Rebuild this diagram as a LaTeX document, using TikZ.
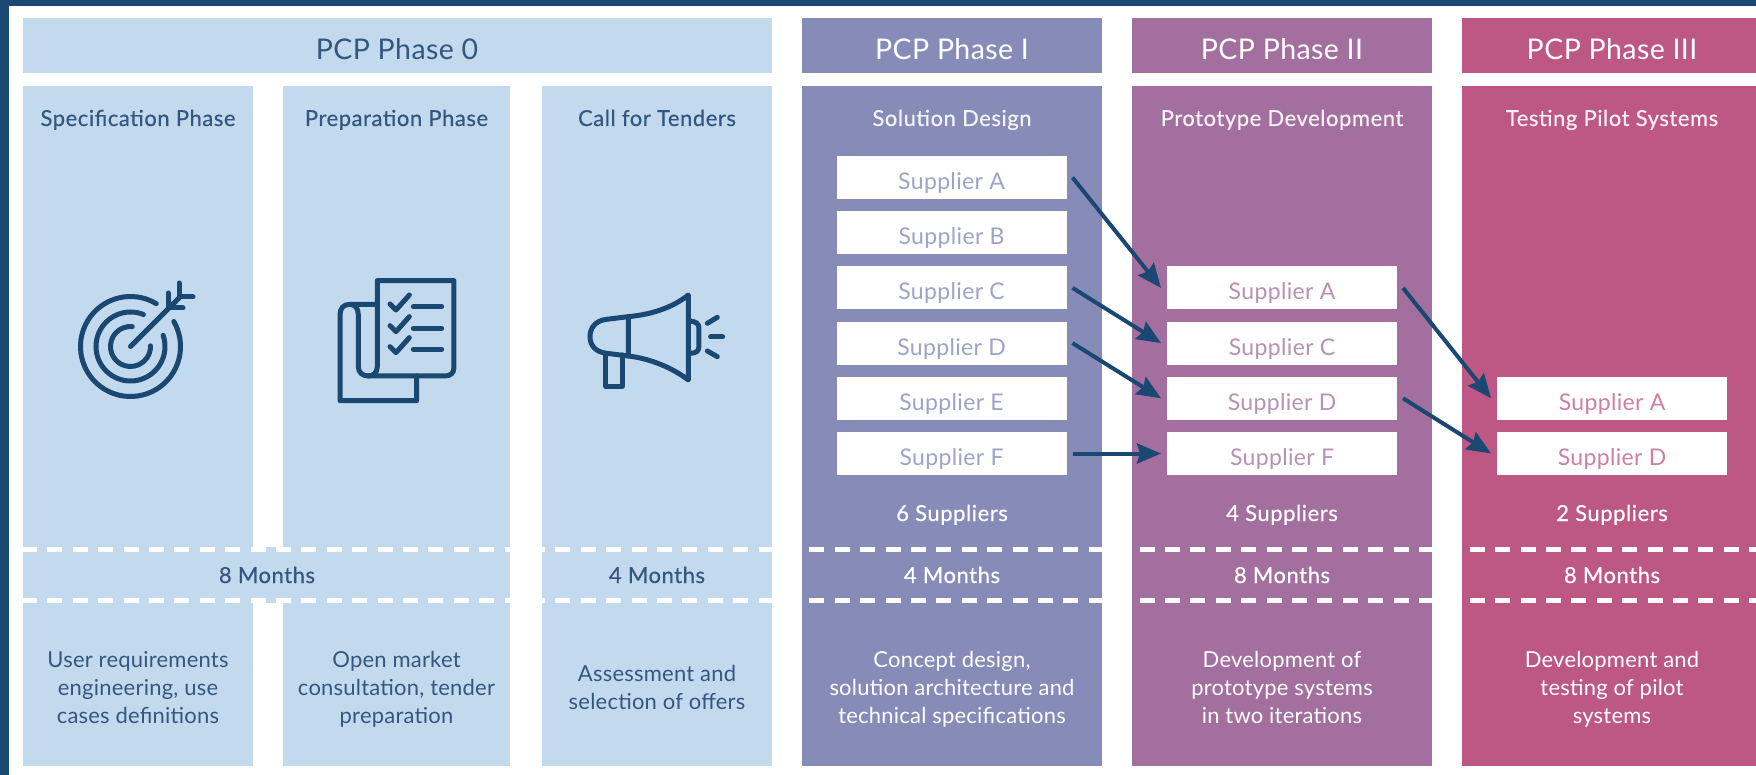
\documentclass[tikz,border=0pt]{standalone}
\usepackage{fontspec}
\setmainfont{Lato}
\usetikzlibrary{arrows.meta}
\definecolor{navy}{HTML}{1A4872}
\definecolor{textblue}{HTML}{34577F}
\definecolor{paleblue}{HTML}{C3DAEE}
\definecolor{phaseone}{HTML}{868BB8}
\definecolor{phasetwo}{HTML}{A36F9E}
\definecolor{phasethree}{HTML}{BD5783}
\definecolor{textone}{HTML}{A0A3C9}
\definecolor{texttwo}{HTML}{B792B5}
\definecolor{textthree}{HTML}{CE7FA5}
\tikzset{
  headtext/.style={inner sep=0pt, anchor=base, font=\fontsize{28.5}{28.5}\selectfont\addfontfeature{LetterSpace=1.5}},
  titletext/.style={inner sep=0pt, anchor=base, font=\fontsize{22}{22}\selectfont\addfontfeature{LetterSpace=2.5,FakeBold=0.5}},
  bodytext/.style={inner sep=0pt, anchor=base, align=center, font=\fontsize{22}{28}\selectfont\addfontfeature{LetterSpace=1}},
  supplierbox/.style={fill=white, inner sep=0pt, outer xsep=6pt, minimum width=230pt, minimum height=43pt,
    text height=24pt, text depth=0pt, font=\fontsize{23}{23}\selectfont\addfontfeature{LetterSpace=1.5}},
  supplierarrow/.style={navy, line width=4pt, -{Stealth[length=24pt,width=20pt,inset=3pt]}},
  monthdash/.style={white, line width=5pt, dash pattern=on 15pt off 10.4pt},
  icon/.style={navy, line width=5pt, line join=round, line cap=round}
}
\begin{document}
\begin{tikzpicture}[x=1pt,y=-1pt]
\useasboundingbox (0,0) rectangle (1756,775);
\fill [white] (0,0) rectangle (1756,775);
\fill [navy] (0,0) rectangle (1756,6);
\fill [navy] (0,0) rectangle (8.5,775);

% phase 0
\fill [paleblue] (23,18) rectangle (772,73);
\foreach \a/\b in {23/253,283/510,542/772} {\fill [paleblue] (\a,86) rectangle (\b,766);}
\fill [paleblue] (253,547) rectangle (283,603);
\node [headtext, text=textblue] (headzero) at (397,60) {PCP Phase 0};
\node [titletext, text=textblue] (titlespec) at (138,126) {Specification Phase};
\node [titletext, text=textblue] (titleprep) at (396.5,126) {Preparation Phase};
\node [titletext, text=textblue] (titlecall) at (657,126) {Call for Tenders};

% phases I to III
\foreach \a/\b/\c in {802/1102/phaseone,1132/1432/phasetwo,1462/1756/phasethree} {
  \fill [\c] (\a,18) rectangle (\b,73);
  \fill [\c] (\a,86) rectangle (\b,766);
}
\node [headtext, text=white] (headone) at (952,60) {PCP Phase I};
\node [headtext, text=white] (headtwo) at (1282,60) {PCP Phase II};
\node [headtext, text=white] (headthree) at (1612,60) {PCP Phase III};
\node [titletext, text=white!90!phaseone] (titleone) at (952,126) {Solution Design};
\node [titletext, text=white!90!phasetwo] (titletwo) at (1282,126) {Prototype Development};
\node [titletext, text=white!90!phasethree] (titlethree) at (1612,126) {Testing Pilot Systems};

% suppliers
\foreach \s/\a in {A/0,B/1,C/2,D/3,E/4,F/5} {
  \node [supplierbox, text=textone] (one\s) at (951.5,{177.5+55.2*\a}) {Supplier \s};
}
\foreach \s/\a in {A/2,C/3,D/4,F/5} {
  \node [supplierbox, text=texttwo] (two\s) at (1282,{177.5+55.2*\a}) {Supplier \s};
}
\foreach \s/\a in {A/4,D/5} {
  \node [supplierbox, text=textthree] (three\s) at (1612,{177.5+55.2*\a}) {Supplier \s};
}
\foreach \s in {A,C,D,F} {\draw [supplierarrow] (one\s.east) -- (two\s.west);}
\foreach \s in {A,D} {\draw [supplierarrow] (two\s.east) -- (three\s.west);}

\node [titletext, text=white] (countone) at (952,521) {6 Suppliers};
\node [titletext, text=white] (counttwo) at (1282,521) {4 Suppliers};
\node [titletext, text=white] (countthree) at (1612,521) {2 Suppliers};

% duration band
\draw [monthdash] (22,549) -- (1756,549);
\draw [monthdash] (22,600) -- (1756,600);
\node [titletext, text=textblue] (montha) at (267,583) {8 Months};
\node [titletext, text=textblue] (monthb) at (657,583) {4 Months};
\node [titletext, text=white] (monthc) at (952,583) {4 Months};
\node [titletext, text=white] (monthd) at (1282,583) {8 Months};
\node [titletext, text=white] (monthe) at (1612,583) {8 Months};

% descriptions
\node [bodytext, text=textblue] (descspec) at (138,723) {User requirements\\engineering, use\\cases definitions};
\node [bodytext, text=textblue] (descprep) at (396.5,723) {Open market\\consultation, tender\\preparation};
\node [bodytext, text=textblue] (desccall) at (657,709) {Assessment and\\selection of offers};
\node [bodytext, text=white] (descone) at (952,723) {Concept design,\\solution architecture and\\technical specifications};
\node [bodytext, text=white] (desctwo) at (1282,723) {Development of\\prototype systems\\in two iterations};
\node [bodytext, text=white] (descthree) at (1612,723) {Development and\\testing of pilot\\systems};

% target icon
\begin{scope}[shift={(130.5,346.5)},x=1pt,y=1pt,icon]
\draw (59:50) arc [start angle=59, end angle=390, radius=50];
\draw (68:34.5) arc [start angle=68, end angle=379, radius=34.5];
\draw (85:20) arc [start angle=85, end angle=362, radius=20];
\draw (0,0) -- (49,49);
\draw (37.5,53.5) -- (37.5,38.5) -- (52.5,38.5);
\draw (48.5,63.5) -- (48.5,49.5) -- (62.5,49.5);
\end{scope}

% document icon
\begin{scope}[shift={(300,250)},x=0.3333pt,y=-0.3333pt,icon]
\draw (232,163) -- (150,163) .. controls (130,163) and (120,175) .. (120,195) -- (120,452) -- (350,452) -- (350,378);
\draw (232,92) -- (232,350) .. controls (232,368) and (220,378) .. (205,378) .. controls (188,378) and (175,368) .. (175,350) -- (175,195) .. controls (175,175) and (165,163) .. (150,163);
\draw (232,92) -- (462,92) -- (462,352) .. controls (462,368) and (452,378) .. (436,378) -- (205,378);
\foreach \a in {0,65,128} {
  \draw (270,{162+\a}) -- (288,{180+\a}) -- (328,{135+\a});
  \draw (340,{170+\a}) -- (425,{170+\a});
}
\end{scope}

% megaphone icon
\begin{scope}[shift={(500,240)},x=0.3333pt,y=-0.3333pt,icon]
\draw (385,230) .. controls (450,224) and (515,205) .. (565,165) -- (565,420) .. controls (515,382) and (450,356) .. (385,348) -- cycle;
\draw (385,230) -- (320,238) .. controls (285,242) and (270,265) .. (270,290) .. controls (270,315) and (285,336) .. (320,340) -- (385,348);
\draw (318,340) -- (318,440) -- (367,440) -- (367,345);
\draw (570,243) .. controls (590,245) and (597,252) .. (597,265) -- (597,318) .. controls (597,332) and (590,340) .. (570,340);
\draw (622,250) -- (652,232);
\draw (632,291) -- (668,291);
\draw (622,333) -- (652,350);
\end{scope}
\end{tikzpicture}
\end{document}
